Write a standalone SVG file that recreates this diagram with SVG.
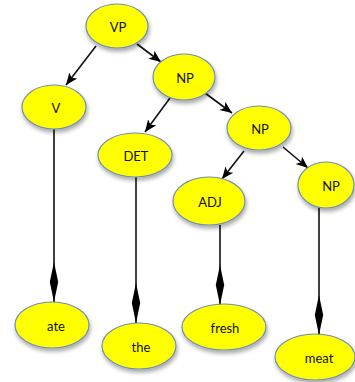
<svg xmlns="http://www.w3.org/2000/svg" width="355" height="382" viewBox="0 0 355 382">
<defs>
<filter id="sh" x="-30%" y="-30%" width="160%" height="170%">
<feGaussianBlur in="SourceAlpha" stdDeviation="2"/>
<feOffset dx="1" dy="3" result="b"/>
<feComponentTransfer><feFuncA type="linear" slope="0.35"/></feComponentTransfer>
<feMerge><feMergeNode/><feMergeNode in="SourceGraphic"/></feMerge>
</filter>
<marker id="arr" markerUnits="userSpaceOnUse" markerWidth="14" markerHeight="12" refX="12" refY="5" orient="auto" viewBox="0 0 14 10">
<path d="M0,0 L12,5 L0,10 L3,5 z" fill="#000"/>
</marker>
<marker id="dia" markerUnits="userSpaceOnUse" markerWidth="42" markerHeight="10" refX="40" refY="5" orient="auto" viewBox="0 0 42 10">
<path d="M0,5 L20,0.8 L40,5 L20,9.2 z" fill="#000"/>
</marker>
</defs>
<style>
.n ellipse{fill:#ffff00;stroke:#6f8fb0;stroke-width:1.2;filter:url(#sh)}
.n text{font-family:Lato,"Liberation Sans",sans-serif;font-size:13px;fill:#111;text-anchor:middle;dominant-baseline:central}
.e line{stroke:#111;stroke-width:1.6;fill:none}
.a{marker-end:url(#arr)}
.d{marker-end:url(#dia)}
</style>
<g class="e" id="connectors">
<line class="a" x1="96" y1="46" x2="66" y2="85"/>
<line class="a" x1="137" y1="44" x2="161" y2="62"/>
<line class="a" x1="170" y1="98" x2="145" y2="132"/>
<line class="a" x1="205" y1="93" x2="232" y2="113"/>
<line class="a" x1="244" y1="151" x2="222" y2="179"/>
<line class="a" x1="283" y1="147" x2="308" y2="168"/>
<line class="d" x1="54" y1="129" x2="54" y2="302"/>
<line class="d" x1="136" y1="177" x2="136" y2="323"/>
<line class="d" x1="220" y1="225" x2="220" y2="305"/>
<line class="d" x1="319" y1="207" x2="319" y2="335"/>
</g>
<g class="n" id="VP"><ellipse cx="117" cy="26" rx="31" ry="22"/><text x="118" y="27">VP</text></g>
<g class="n" id="V"><ellipse cx="54" cy="107" rx="32" ry="22"/><text x="56" y="108">V</text></g>
<g class="n" id="NP1"><ellipse cx="184" cy="77" rx="31" ry="23"/><text x="185" y="78">NP</text></g>
<g class="n" id="DET"><ellipse cx="135" cy="155" rx="37" ry="22"/><text x="136" y="156">DET</text></g>
<g class="n" id="NP2"><ellipse cx="259" cy="128" rx="32" ry="22"/><text x="260" y="129">NP</text></g>
<g class="n" id="ADJ"><ellipse cx="209" cy="201" rx="36" ry="24"/><text x="210" y="202">ADJ</text></g>
<g class="n" id="NP3"><ellipse cx="326" cy="185" rx="28" ry="23"/><text x="331" y="186">NP</text></g>
<g class="n" id="ate"><ellipse cx="52" cy="325" rx="37" ry="23"/><text x="56" y="326">ate</text></g>
<g class="n" id="the"><ellipse cx="139" cy="346" rx="37" ry="23"/><text x="141" y="347">the</text></g>
<g class="n" id="fresh"><ellipse cx="224" cy="327" rx="42" ry="23"/><text x="225" y="328">fresh</text></g>
<g class="n" id="meat"><ellipse cx="315" cy="357" rx="40" ry="23"/><text x="319" y="358">meat</text></g>
</svg>
